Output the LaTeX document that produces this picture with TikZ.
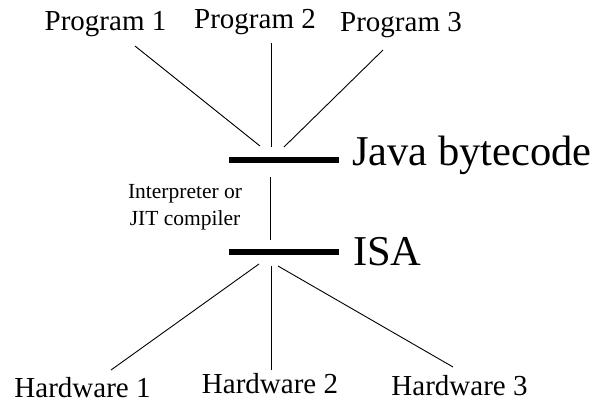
\documentclass[tikz,border=0pt]{standalone}
\usepackage{fontspec}
\setmainfont{Liberation Serif}
\begin{document}
\begin{tikzpicture}[x=1pt,y=-1pt,
  lbl/.style={inner sep=0pt, anchor=base, font=\fontsize{29}{35}\selectfont},
  layer/.style={inner sep=0pt, anchor=base west, font=\fontsize{42.5}{50}\selectfont},
  note/.style={inner sep=0pt, anchor=base, font=\fontsize{21.5}{27}\selectfont},
  levelbar/.style={fill=black, inner sep=0pt, minimum width=110pt, minimum height=6.5pt},
  wire/.style={line width=0.9pt}]
\useasboundingbox (0,0) rectangle (600,404);

% programs on top
\node[lbl] (p1) at (105.5,31) {Program 1};
\node[lbl] (p2) at (255,29) {Program 2};
\node[lbl] (p3) at (401,32) {Program 3};

% the two levels
\node[levelbar] (jbar) at (284,160) {};
\node[layer] (jtxt) at (352,165) {Java bytecode};
\node[levelbar] (ibar) at (284,252) {};
\node[layer] (itxt) at (353,265) {ISA};

% translation step between the levels
\node[note] (interp1) at (185,198) {Interpreter or};
\node[note] (interp2) at (185,225) {JIT compiler};

% hardware at the bottom
\node[lbl] (h1) at (82.5,397) {Hardware 1};
\node[lbl] (h2) at (270,393) {Hardware 2};
\node[lbl] (h3) at (459.5,395) {Hardware 3};

% connector end points
\coordinate (p1a) at (135,46);  \coordinate (p1b) at (260,146);
\coordinate (p2a) at (271,43);  \coordinate (p2b) at (271,147);
\coordinate (p3a) at (383,50);  \coordinate (p3b) at (284,147);
\coordinate (ma)  at (270,177); \coordinate (mb)  at (270,240);
\coordinate (h1a) at (259,264); \coordinate (h1b) at (111,370);
\coordinate (h2a) at (271,266); \coordinate (h2b) at (271,370);
\coordinate (h3a) at (278,266); \coordinate (h3b) at (453,367);

\draw[wire] (p1a) -- (p1b);
\draw[wire] (p2a) -- (p2b);
\draw[wire] (p3a) -- (p3b);
\draw[wire] (ma) -- (mb);
\draw[wire] (h1a) -- (h1b);
\draw[wire] (h2a) -- (h2b);
\draw[wire] (h3a) -- (h3b);
\end{tikzpicture}
\end{document}
